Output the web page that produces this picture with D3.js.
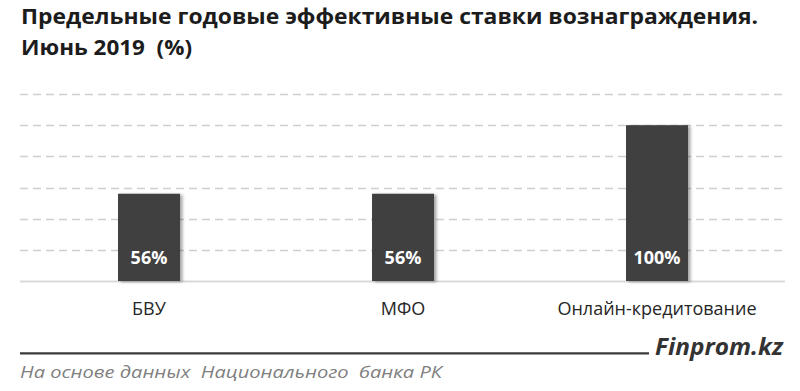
<!DOCTYPE html>
<html>
<head>
<meta charset="utf-8">
<script src="https://cdn.jsdelivr.net/npm/d3@7"></script>
<style>
  html, body { margin: 0; padding: 0; background: #fff; }
  svg { display: block; }
</style>
</head>
<body>
<svg id="chart" width="800" height="391"></svg>
<script>
const titleLines = ["Предельные годовые эффективные ставки вознаграждения.", "Июнь 2019  (%)"];
const categories = ["БВУ", "МФО", "Онлайн-кредитование"];
const values = [56, 56, 100];
const valueLabels = ["56%", "56%", "100%"];
const gridTicks = [20, 40, 60, 80, 100, 120];
const sourceText = "На основе данных  Национального  банка РК";
const brandText = "Finprom.kz";

const svg = d3.select("#chart");
const plot = { left: 20, right: 785, top: 94, bottom: 281 };
const FONT = "'Open Sans', 'DejaVu Sans', sans-serif";

const defs = svg.append("defs");
const f = defs.append("filter").attr("id", "shadow").attr("x", "-20%").attr("y", "-10%").attr("width", "150%").attr("height", "130%");
f.append("feDropShadow").attr("dx", 2.5).attr("dy", 1).attr("stdDeviation", 1.6).attr("flood-color", "#000").attr("flood-opacity", 0.35);

// Title
const title = svg.append("g").attr("font-family", FONT).attr("font-weight", 700).attr("fill", "#1c1c1c");
title.append("text").attr("x", 21).attr("y", 23.5).attr("font-size", 22)
  .attr("textLength", 737).attr("lengthAdjust", "spacingAndGlyphs").text(titleLines[0]);
title.append("text").attr("x", 21).attr("y", 55).attr("font-size", 22)
  .attr("textLength", 171).attr("lengthAdjust", "spacingAndGlyphs").attr("xml:space", "preserve").text(titleLines[1]);

const x = d3.scaleBand().domain(categories).range([22, 784]).paddingInner(0.756).paddingOuter(0.378);
const y = d3.scaleLinear().domain([0, 120]).range([plot.bottom, plot.top]);

// Gridlines
svg.append("g").selectAll("line").data(gridTicks).join("line")
  .attr("x1", plot.left).attr("x2", plot.right)
  .attr("y1", d => Math.round(y(d)) + 0.5).attr("y2", d => Math.round(y(d)) + 0.5)
  .attr("stroke", "#cfcfcf").attr("stroke-width", 1.3).attr("stroke-dasharray", "8,5");

// Baseline
svg.append("line").attr("x1", plot.left).attr("x2", plot.right)
  .attr("y1", y(0) + 0.5).attr("y2", y(0) + 0.5).attr("stroke", "#d9d9d9").attr("stroke-width", 2);

// Bars
svg.append("g").selectAll("rect").data(values).join("rect")
  .attr("x", (d, i) => x(categories[i]))
  .attr("y", d => y(d))
  .attr("width", x.bandwidth())
  .attr("height", d => y(0) - y(d))
  .attr("fill", "#404040")
  .attr("filter", "url(#shadow)");

// Value labels
svg.append("g").selectAll("text").data(valueLabels).join("text")
  .attr("x", (d, i) => x(categories[i]) + x.bandwidth() / 2)
  .attr("y", 264)
  .attr("text-anchor", "middle")
  .attr("font-family", FONT)
  .attr("font-weight", 700).attr("font-size", 18).attr("fill", "#ffffff")
  .text(d => d);

// Category labels
svg.append("g").selectAll("text").data(categories).join("text")
  .attr("x", d => x(d) + x.bandwidth() / 2)
  .attr("y", 315)
  .attr("text-anchor", "middle")
  .attr("font-family", FONT)
  .attr("font-size", 18).attr("fill", "#262626")
  .text(d => d);

// Footer
svg.append("line").attr("x1", 20).attr("x2", 649).attr("y1", 353.3).attr("y2", 353.3)
  .attr("stroke", "#3a3a3a").attr("stroke-width", 2.2);
svg.append("text").attr("x", 655).attr("y", 354.5)
  .attr("font-family", FONT)
  .attr("font-weight", 700).attr("font-style", "italic").attr("font-size", 23).attr("fill", "#333")
  .attr("textLength", 128).attr("lengthAdjust", "spacingAndGlyphs").text(brandText);
svg.append("text").attr("x", 20).attr("y", 378)
  .attr("font-family", FONT)
  .attr("font-style", "italic").attr("font-size", 17).attr("fill", "#7f7f7f")
  .attr("textLength", 422).attr("lengthAdjust", "spacingAndGlyphs").attr("xml:space", "preserve").text(sourceText);
</script>
</body>
</html>
